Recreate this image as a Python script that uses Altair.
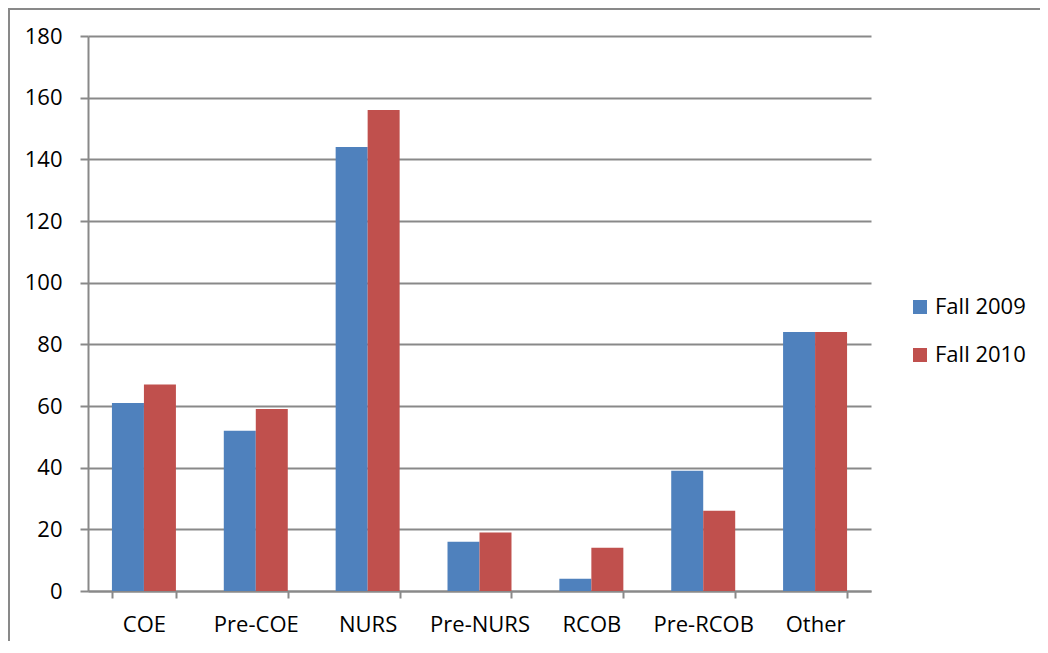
import altair as alt
import pandas as pd

categories = ["COE", "Pre-COE", "NURS", "Pre-NURS", "RCOB", "Pre-RCOB", "Other"]
series = ["Fall 2009", "Fall 2010"]
fall_2009 = [61, 52, 144, 16, 4, 39, 84]
fall_2010 = [67, 59, 156, 19, 14, 26, 84]
y_ticks = [0, 20, 40, 60, 80, 100, 120, 140, 160, 180]

rows = []
for c, a, b in zip(categories, fall_2009, fall_2010):
    rows.append({"category": c, "series": series[0], "value": a})
    rows.append({"category": c, "series": series[1], "value": b})
df = pd.DataFrame(rows)

W, H = 783, 555
FONT = "Open Sans"
GRAY = "#898989"

bars = alt.Chart(df).mark_bar().encode(
    x=alt.X(
        "category:N",
        sort=categories,
        scale=alt.Scale(paddingInner=0.428, paddingOuter=0.214),
        axis=alt.Axis(
            title=None, labelAngle=0, tickBand="extent", tickSize=7,
            labelPadding=16, labelFontSize=22, labelFont=FONT, labelColor="black",
            domainColor=GRAY, domainWidth=2, tickColor=GRAY, tickWidth=2, grid=False,
        ),
    ),
    xOffset=alt.XOffset("series:N", sort=series, scale=alt.Scale(paddingInner=0, paddingOuter=0)),
    y=alt.Y(
        "value:Q",
        scale=alt.Scale(domain=[0, 180], nice=False),
        axis=alt.Axis(
            values=y_ticks, title=None, tickSize=8, labelPadding=18,
            labelFontSize=22, labelFont=FONT, labelColor="black",
            domainColor=GRAY, domainWidth=2, tickColor=GRAY, tickWidth=2,
            grid=True, gridColor=GRAY, gridWidth=2,
        ),
    ),
    color=alt.Color(
        "series:N",
        sort=series,
        scale=alt.Scale(domain=series, range=["#4F81BD", "#C0504D"]),
        legend=alt.Legend(
            title=None, orient="none", legendX=821, legendY=260, padding=0,
            symbolType="square", symbolSize=196, symbolStrokeWidth=0,
            labelFontSize=22, labelFont=FONT, labelColor="black",
            labelOffset=4, rowPadding=26,
        ),
    ),
)

border = alt.Chart(df).mark_rect(fill=None, stroke=GRAY, strokeWidth=1.5).encode(
    x=alt.value(-79), y=alt.value(-27), x2=alt.value(W + 400), y2=alt.value(H + 300)
)

chart = alt.layer(border, bars).properties(
    width=W, height=H,
    autosize=alt.AutoSizeParams(type="none"),
    padding={"left": 80, "top": 28, "right": 169, "bottom": 50},
).configure_view(stroke=None)

chart.save("out.html", embed_options={"renderer": "svg", "actions": False})
